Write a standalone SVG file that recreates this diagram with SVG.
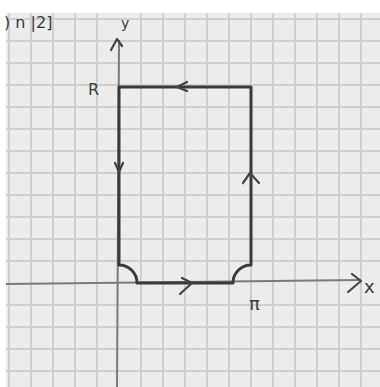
<svg xmlns="http://www.w3.org/2000/svg" width="380" height="387" viewBox="0 0 380 387">
<style>
.grid{stroke:#cfcfcf;stroke-width:2;fill:none}
.axis{stroke:#7a7a7a;stroke-width:2;fill:none}
.contour{stroke:#3a3a3a;stroke-width:3;fill:none;stroke-linejoin:round}
.head{stroke:#444;stroke-width:2.2;fill:none;stroke-linecap:round;stroke-linejoin:round}
.lbl{font-family:"DejaVu Sans","Liberation Sans",sans-serif;fill:#3a3a3a}
</style>
<rect width="380" height="387" fill="#ffffff"/>
<rect x="6" y="13" width="374" height="374" fill="#ececec"/>
<g id="grid">
<path class="grid" d="M9,13V387M31,13V387M53,13V387M75,13V387M97,13V387M141,13V387M163,13V387M185,13V387M207,13V387M229,13V387M251,13V387M273,13V387M295,13V387M317,13V387M339,13V387M361,13V387"/>
<path class="grid" d="M6,19H380M6,41H380M6,63H380M6,85H380M6,107H380M6,129H380M6,151H380M6,173H380M6,195H380M6,217H380M6,239H380M6,261H380M6,305H380M6,327H380M6,349H380M6,371H380"/>
</g>
<g id="axes">
<path class="axis" d="M6,284L361,280"/>
<path class="head" d="M352,274L361,281L348,292"/>
<path class="axis" d="M117,387L119,40"/>
<path class="head" d="M111,50L117,39L122,46"/>
</g>
<g id="contour">
<path class="contour" d="M119,87V265A18,18 0 0 1 137,283H233A18,18 0 0 1 251,265V87Z"/>
<path class="head" d="M187,82L177,87L187,91"/>
<path class="head" d="M115,163L119,172L123,163"/>
<path class="head" d="M243,183L250,173L259,183"/>
<path class="head" d="M182,278L192,283L180,294"/>
</g>
<g id="labels">
<text class="lbl" x="4" y="28" font-size="16">) n |2]</text>
<text class="lbl" x="121" y="28" font-size="14">y</text>
<text class="lbl" x="88" y="95" font-size="16">R</text>
<text class="lbl" x="249" y="310" font-size="18">π</text>
<text class="lbl" x="364" y="293" font-size="18">x</text>
</g>
</svg>
